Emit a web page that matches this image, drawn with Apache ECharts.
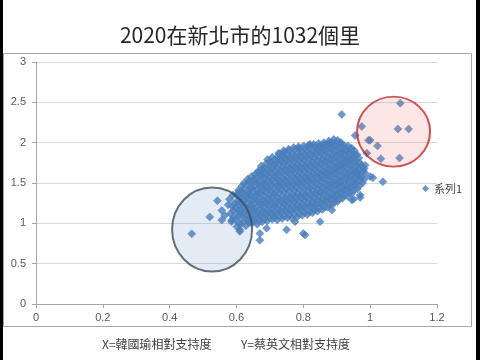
<!DOCTYPE html>
<html>
<head>
<meta charset="utf-8">
<script src="https://cdn.jsdelivr.net/npm/echarts@6/dist/echarts.min.js"></script>
<style>html,body{margin:0;padding:0;background:#fff;}#c{width:480px;height:360px;}</style>
</head>
<body>
<div id="c"></div>
<script>
const chartTitle = '2020在新北市的1032個里';
const xNote = 'X=韓國瑜相對支持度';
const yNote = 'Y=蔡英文相對支持度';
const seriesName = '系列1';
const xTicks = [0, 0.2, 0.4, 0.6, 0.8, 1, 1.2];
const yTicks = [0, 0.5, 1, 1.5, 2, 2.5, 3];

// dense core of the cloud
const corePoints = [
 [0.585,1.02],[0.582,1.12],[0.588,1.21],[0.579,1.30],
 [0.601,0.96],[0.597,1.05],[0.603,1.13],[0.598,1.19],[0.604,1.27],[0.600,1.35],[0.606,1.41],
 [0.612,0.99],[0.617,1.08],[0.614,1.16],[0.619,1.23],[0.613,1.31],[0.618,1.38],[0.616,1.46],
 [0.628,0.97],[0.633,1.04],[0.630,1.11],[0.635,1.18],[0.629,1.26],[0.632,1.33],[0.636,1.40],[0.631,1.48],[0.634,1.55],
 [0.647,1.00],[0.643,1.07],[0.649,1.14],[0.644,1.22],[0.648,1.29],[0.642,1.36],[0.646,1.44],[0.650,1.51],[0.645,1.58],
 [0.662,0.99],[0.658,1.06],[0.664,1.13],[0.659,1.20],[0.663,1.27],[0.657,1.34],[0.661,1.41],[0.665,1.49],[0.660,1.56],[0.664,1.63],
 [0.677,1.02],[0.673,1.09],[0.679,1.16],[0.674,1.23],[0.678,1.30],[0.672,1.37],[0.676,1.45],[0.680,1.52],[0.675,1.59],[0.679,1.66],[0.674,1.71],
 [0.692,1.03],[0.688,1.10],[0.694,1.17],[0.689,1.24],[0.693,1.31],[0.687,1.39],[0.691,1.46],[0.695,1.53],[0.690,1.60],[0.694,1.67],[0.688,1.74],[0.693,1.79],
 [0.707,1.05],[0.703,1.12],[0.709,1.19],[0.704,1.26],[0.708,1.33],[0.702,1.40],[0.706,1.47],[0.710,1.55],[0.705,1.62],[0.709,1.69],[0.703,1.76],[0.707,1.82],
 [0.722,1.04],[0.718,1.11],[0.724,1.18],[0.719,1.25],[0.723,1.32],[0.717,1.39],[0.721,1.47],[0.725,1.54],[0.720,1.61],[0.724,1.68],[0.718,1.75],[0.722,1.82],[0.726,1.87],
 [0.737,1.06],[0.733,1.13],[0.739,1.20],[0.734,1.27],[0.738,1.34],[0.732,1.42],[0.736,1.49],[0.740,1.56],[0.735,1.63],[0.739,1.70],[0.733,1.77],[0.737,1.84],[0.741,1.90],
 [0.752,1.07],[0.748,1.14],[0.754,1.21],[0.749,1.28],[0.753,1.35],[0.747,1.43],[0.751,1.50],[0.755,1.57],[0.750,1.64],[0.754,1.71],[0.748,1.78],[0.752,1.85],[0.756,1.92],
 [0.767,1.06],[0.763,1.15],[0.769,1.22],[0.764,1.29],[0.768,1.36],[0.762,1.44],[0.766,1.51],[0.770,1.58],[0.765,1.65],[0.769,1.72],[0.763,1.79],[0.767,1.86],[0.771,1.94],
 [0.782,1.08],[0.778,1.16],[0.784,1.23],[0.779,1.30],[0.783,1.37],[0.777,1.45],[0.781,1.52],[0.785,1.59],[0.780,1.66],[0.784,1.73],[0.778,1.80],[0.782,1.87],[0.786,1.95],
 [0.797,1.10],[0.793,1.17],[0.799,1.24],[0.794,1.31],[0.798,1.38],[0.792,1.46],[0.796,1.53],[0.800,1.60],[0.795,1.67],[0.799,1.74],[0.793,1.81],[0.797,1.88],[0.801,1.96],
 [0.812,1.11],[0.808,1.18],[0.814,1.25],[0.809,1.32],[0.813,1.40],[0.807,1.47],[0.811,1.54],[0.815,1.61],[0.810,1.68],[0.814,1.75],[0.808,1.82],[0.812,1.89],[0.816,1.97],
 [0.827,1.13],[0.823,1.20],[0.829,1.27],[0.824,1.34],[0.828,1.41],[0.822,1.48],[0.826,1.55],[0.830,1.62],[0.825,1.69],[0.829,1.76],[0.823,1.83],[0.827,1.90],[0.831,1.98],
 [0.842,1.15],[0.838,1.22],[0.844,1.29],[0.839,1.36],[0.843,1.43],[0.837,1.50],[0.841,1.57],[0.845,1.64],[0.840,1.71],[0.844,1.78],[0.838,1.85],[0.842,1.92],[0.846,1.99],
 [0.857,1.17],[0.853,1.24],[0.859,1.31],[0.854,1.38],[0.858,1.45],[0.852,1.52],[0.856,1.59],[0.860,1.66],[0.855,1.73],[0.859,1.80],[0.853,1.87],[0.857,1.94],[0.861,2.00],
 [0.872,1.20],[0.868,1.27],[0.874,1.34],[0.869,1.41],[0.873,1.48],[0.867,1.55],[0.871,1.62],[0.875,1.69],[0.870,1.76],[0.874,1.83],[0.868,1.90],[0.872,1.97],[0.876,2.02],
 [0.887,1.23],[0.883,1.30],[0.889,1.37],[0.884,1.44],[0.888,1.51],[0.882,1.58],[0.886,1.65],[0.890,1.72],[0.885,1.79],[0.889,1.86],[0.883,1.93],[0.887,2.00],[0.891,2.04],
 [0.902,1.27],[0.898,1.34],[0.904,1.41],[0.899,1.48],[0.903,1.55],[0.897,1.62],[0.901,1.69],[0.905,1.76],[0.900,1.83],[0.904,1.90],[0.898,1.97],[0.902,2.03],
 [0.917,1.31],[0.913,1.38],[0.919,1.45],[0.914,1.52],[0.918,1.59],[0.912,1.66],[0.916,1.73],[0.920,1.80],[0.915,1.87],[0.919,1.94],[0.913,2.00],
 [0.932,1.34],[0.928,1.41],[0.934,1.48],[0.929,1.55],[0.933,1.62],[0.927,1.69],[0.931,1.76],[0.935,1.83],[0.930,1.90],[0.934,1.96],
 [0.947,1.38],[0.943,1.45],[0.949,1.52],[0.944,1.59],[0.948,1.66],[0.942,1.73],[0.946,1.80],[0.950,1.87],[0.945,1.93],
 [0.962,1.43],[0.958,1.50],[0.964,1.57],[0.959,1.64],[0.963,1.71],[0.957,1.78],[0.961,1.85],
 [0.977,1.50],[0.973,1.58],[0.979,1.65],[0.974,1.72]
];

// more points of the core, lying between the ones above
const coreFillPoints = [
 [0.592,1.07],[0.590,1.16],[0.594,1.25],[0.589,1.35],
 [0.608,1.00],[0.606,1.09],[0.609,1.16],[0.607,1.23],[0.610,1.31],[0.605,1.38],
 [0.623,1.03],[0.621,1.12],[0.624,1.20],[0.622,1.27],[0.625,1.35],[0.620,1.42],[0.623,1.50],
 [0.638,1.01],[0.640,1.075],[0.637,1.145],[0.641,1.22],[0.639,1.295],[0.636,1.365],[0.640,1.44],[0.638,1.515],
 [0.653,1.035],[0.655,1.105],[0.652,1.18],[0.656,1.255],[0.654,1.325],[0.651,1.40],[0.655,1.475],[0.653,1.545],[0.656,1.61],
 [0.668,1.025],[0.670,1.095],[0.667,1.165],[0.671,1.235],[0.669,1.305],[0.666,1.375],[0.670,1.45],[0.668,1.525],[0.671,1.595],[0.667,1.655],
 [0.683,1.055],[0.685,1.125],[0.682,1.195],[0.686,1.265],[0.684,1.335],[0.681,1.41],[0.685,1.485],[0.683,1.555],[0.686,1.625],[0.682,1.69],
 [0.698,1.075],[0.700,1.145],[0.697,1.215],[0.701,1.285],[0.699,1.355],[0.696,1.425],[0.700,1.50],[0.698,1.575],[0.701,1.645],[0.697,1.715],[0.700,1.77],
 [0.713,1.075],[0.715,1.145],[0.712,1.215],[0.716,1.285],[0.714,1.355],[0.711,1.43],[0.715,1.505],[0.713,1.575],[0.716,1.645],[0.712,1.715],[0.715,1.785],
 [0.728,1.085],[0.730,1.155],[0.727,1.225],[0.731,1.295],[0.729,1.38],[0.726,1.455],[0.730,1.525],[0.728,1.595],[0.731,1.665],[0.727,1.735],[0.730,1.805],[0.728,1.86],
 [0.743,1.095],[0.745,1.165],[0.742,1.235],[0.746,1.31],[0.744,1.39],[0.741,1.465],[0.745,1.535],[0.743,1.605],[0.746,1.675],[0.742,1.745],[0.745,1.815],[0.743,1.88],
 [0.758,1.105],[0.760,1.175],[0.757,1.25],[0.761,1.325],[0.759,1.40],[0.756,1.475],[0.760,1.545],[0.758,1.615],[0.761,1.685],[0.757,1.755],[0.760,1.825],[0.758,1.90],
 [0.773,1.11],[0.775,1.19],[0.772,1.26],[0.776,1.335],[0.774,1.41],[0.771,1.485],[0.775,1.555],[0.773,1.625],[0.776,1.695],[0.772,1.765],[0.775,1.835],[0.773,1.91],
 [0.788,1.12],[0.790,1.20],[0.787,1.27],[0.791,1.345],[0.789,1.42],[0.786,1.495],[0.790,1.565],[0.788,1.635],[0.791,1.705],[0.787,1.775],[0.790,1.845],[0.788,1.92],
 [0.803,1.135],[0.805,1.205],[0.802,1.28],[0.806,1.355],[0.804,1.43],[0.801,1.505],[0.805,1.575],[0.803,1.645],[0.806,1.715],[0.802,1.785],[0.805,1.855],[0.803,1.925],
 [0.818,1.145],[0.820,1.215],[0.817,1.29],[0.821,1.365],[0.819,1.44],[0.816,1.515],[0.820,1.585],[0.818,1.655],[0.821,1.725],[0.817,1.795],[0.820,1.865],[0.818,1.935],
 [0.833,1.165],[0.835,1.235],[0.832,1.305],[0.836,1.375],[0.834,1.455],[0.831,1.525],[0.835,1.595],[0.833,1.665],[0.836,1.735],[0.832,1.805],[0.835,1.875],[0.833,1.945],
 [0.848,1.185],[0.850,1.255],[0.847,1.325],[0.851,1.395],[0.849,1.465],[0.846,1.535],[0.850,1.605],[0.848,1.675],[0.851,1.745],[0.847,1.815],[0.850,1.885],[0.848,1.955],
 [0.863,1.205],[0.865,1.275],[0.862,1.345],[0.866,1.415],[0.864,1.485],[0.861,1.555],[0.865,1.625],[0.863,1.695],[0.866,1.765],[0.862,1.835],[0.865,1.905],[0.863,1.97],
 [0.878,1.235],[0.880,1.305],[0.877,1.375],[0.881,1.445],[0.879,1.515],[0.876,1.585],[0.880,1.655],[0.878,1.725],[0.881,1.795],[0.877,1.865],[0.880,1.935],[0.878,1.995],
 [0.893,1.265],[0.895,1.335],[0.892,1.405],[0.896,1.475],[0.894,1.545],[0.891,1.615],[0.895,1.685],[0.893,1.755],[0.896,1.825],[0.892,1.895],[0.895,1.965],
 [0.908,1.305],[0.910,1.375],[0.907,1.445],[0.911,1.515],[0.909,1.585],[0.906,1.655],[0.910,1.725],[0.908,1.795],[0.911,1.865],[0.907,1.935],[0.910,2.00],
 [0.923,1.345],[0.925,1.415],[0.922,1.485],[0.926,1.555],[0.924,1.625],[0.921,1.695],[0.925,1.765],[0.923,1.835],[0.926,1.905],[0.922,1.965],
 [0.938,1.375],[0.940,1.445],[0.937,1.515],[0.941,1.585],[0.939,1.655],[0.936,1.725],[0.940,1.795],[0.938,1.865],[0.941,1.925],
 [0.953,1.42],[0.955,1.49],[0.952,1.56],[0.956,1.63],[0.954,1.70],[0.951,1.77],[0.955,1.84],[0.953,1.90],
 [0.968,1.47],[0.970,1.54],[0.967,1.61],[0.971,1.68],[0.969,1.75],[0.966,1.81],
 [0.983,1.55],[0.985,1.62],[0.982,1.68]
];

// scattered points around the cloud
const outlierPoints = [
 [0.466,0.87],[0.520,1.08],[0.543,1.28],[0.556,1.16],[0.556,1.04],[0.586,1.04],[0.610,0.90],[0.575,1.23],[0.565,1.10],
 [0.670,0.875],[0.670,0.79],[0.750,0.92],[0.800,0.875],[0.610,0.92],[0.690,0.94],[0.775,1.02],[0.805,0.855],[0.850,1.02],
 [0.885,1.165],[0.945,1.29],[0.970,1.35],[0.950,1.30],[0.970,1.32],
 [1.000,1.58],[0.960,1.62],[1.008,1.565],[1.038,1.515],[0.985,1.72],[0.990,1.87],
 [1.090,2.49],[1.083,2.17],[1.115,2.17],[1.088,1.81],[1.000,2.03],[1.022,1.96],[1.032,1.80],[0.975,2.20],
 [0.915,2.35],[0.955,2.09],[0.995,2.03],[0.820,1.98],[0.785,1.93],[0.848,1.93]
];

// highlight ellipses: [centerX, centerY] in data units
const lowCircleCenter = [0.527, 0.923];
const highCircleCenter = [1.070, 2.137];

const chart = echarts.init(document.getElementById('c'));
const cjk = '"Noto Sans CJK TC", "Noto Sans", sans-serif';
const latin = '"Liberation Sans", Arial, sans-serif';

chart.setOption({
  animation: false,
  backgroundColor: '#ffffff',
  title: [
    {text: chartTitle, left: 'center', top: 25, padding: 0,
     textStyle: {fontSize: 21, fontWeight: 'normal', color: '#262626', fontFamily: cjk}},
    {text: xNote, left: 102, top: 338, padding: 0,
     textStyle: {fontSize: 12, fontWeight: 'normal', color: '#404040', fontFamily: cjk}},
    {text: yNote, left: 241, top: 338, padding: 0,
     textStyle: {fontSize: 12, fontWeight: 'normal', color: '#404040', fontFamily: cjk}}
  ],
  legend: {
    data: [seriesName], orient: 'vertical', left: 422, top: 183, padding: 0,
    icon: 'diamond', itemWidth: 7, itemHeight: 7, itemGap: 4,
    itemStyle: {borderWidth: 0},
    textStyle: {fontSize: 11, color: '#404040', fontFamily: cjk}
  },
  grid: {left: 36, right: 43, top: 62, bottom: 56},
  xAxis: {
    type: 'value', min: xTicks[0], max: xTicks[xTicks.length - 1], interval: 0.2,
    axisLine: {show: true, lineStyle: {color: '#a6a6a6'}},
    axisTick: {show: true, length: 4, lineStyle: {color: '#a6a6a6'}},
    axisLabel: {margin: 8, fontSize: 11, color: '#595959', fontFamily: latin},
    splitLine: {show: false}
  },
  yAxis: {
    type: 'value', min: yTicks[0], max: yTicks[yTicks.length - 1], interval: 0.5,
    axisLine: {show: true, lineStyle: {color: '#a6a6a6'}},
    axisTick: {show: true, length: 4, lineStyle: {color: '#a6a6a6'}},
    axisLabel: {margin: 10, fontSize: 11, color: '#595959', fontFamily: latin},
    splitLine: {show: true, lineStyle: {color: '#d9d9d9'}}
  },
  graphic: [
    {type: 'rect', shape: {x: 3.5, y: 53.5, width: 468, height: 273}, silent: true, z: -10,
     style: {fill: 'none', stroke: '#a6a6a6', lineWidth: 1}},
    {type: 'rect', shape: {x: 0, y: 0, width: 3, height: 360}, silent: true, style: {fill: '#000'}},
    {type: 'rect', shape: {x: 476, y: 0, width: 4, height: 360}, silent: true, style: {fill: '#000'}}
  ],
  series: [
    {
      name: seriesName, type: 'scatter', symbol: 'diamond', symbolSize: 8, z: 2,
      itemStyle: {color: '#4a7ebb', borderColor: '#4a7ebb', borderWidth: 0.6},
      data: corePoints.concat(coreFillPoints, outlierPoints)
    },
    {
      name: 'lowCircle', type: 'scatter', symbol: 'circle', symbolSize: [80, 84], z: 3, silent: true,
      itemStyle: {color: 'rgba(79,129,189,0.2)', borderColor: '#3c4b5c', borderWidth: 2},
      data: [lowCircleCenter]
    },
    {
      name: 'highCircle', type: 'scatter', symbol: 'circle', symbolSize: [73, 70], z: 3, silent: true,
      itemStyle: {color: 'rgba(235,100,100,0.2)', borderColor: '#bb2a30', borderWidth: 2},
      data: [highCircleCenter]
    }
  ]
});
</script>
</body>
</html>
